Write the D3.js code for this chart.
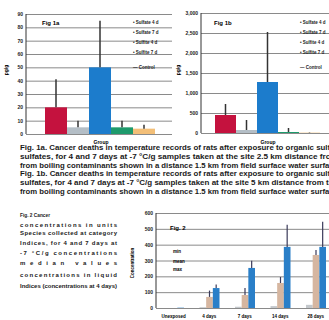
<!DOCTYPE html>
<html>
<head>
<meta charset="utf-8">
<script src="https://cdn.jsdelivr.net/npm/d3@7"></script>
<style>
  body { margin: 0; background: #fff; }
  svg { display: block; }
  text { font-family: "Liberation Sans", Arial, sans-serif; }
</style>
</head>
<body>
<script>
// --- data ---
var series1 = ["Sulfate 4 d", "Sulfate 7 d", "Sulfite 4 d", "Sulfite 7 d", "Control"];
var fig1aValues = [20, 5, 50, 5, 4];
var fig1aErrors = [21, 5, 35, 5, 3];
var fig1aTicks = [0, 10, 20, 30, 40, 50, 60, 70, 80, 90];
var fig1bValues = [450, 75, 1275, 25, 8];
var fig1bErrors = [275, 250, 1250, 100, 10];
var fig1bTicks = [0, 500, 1000, 1500, 2000, 2500, 3000];

var fig2Categories = ["Unexposed", "4 days", "7 days", "14 days", "28 days"];
var fig2Series = ["min", "mean", "max"];
var fig2Low = [0, 5, 8, 12, 20];
var fig2Mid = [0, 70, 82, 158, 335];
var fig2MidErr = [0, 40, 44, 38, 32];
var fig2High = [2, 126, 253, 386, 386];
var fig2HighErr = [0, 22, 45, 140, 158];
var fig2Ticks = [0, 100, 200, 300, 400, 500, 600];

var caption1 = [
  "Fig. 1a. Cancer deaths in temperature records of rats after exposure to organic sulfur",
  "sulfates, for 4 and 7 days at -7 \u00B0C/g samples taken at the site 2.5 km distance from",
  "from boiling contaminants shown in a distance 1.5 km from field surface water surface",
  "Fig. 1b. Cancer deaths in temperature records of rats after exposure to organic sulfur",
  "sulfates, for 4 and 7 days at -7 \u00B0C/g samples taken at the site 5 km distance from the",
  "from boiling contaminants shown in a distance 1.5 km from field surface water surface"
];
var caption2 = [
  "Fig. 2   Cancer",
  "concentrations in units",
  "Species collected at category",
  "Indices, for 4 and 7 days at",
  "-7 \u00B0C/g concentrations",
  "median values",
  "concentrations in liquid",
  "Indices (concentrations at 4 days)"
];

var colors1 = ["#c4123e", "#b4bec6", "#1c7ccc", "#1e9a6c", "#f3bf78"];
var colors2 = ["#c4c8cc", "#d6b6a0", "#2a7fc8"];

var svg = d3.select("body").append("svg")
  .attr("width", 329).attr("height", 320);

function gridAxis(g, y, ticks, left, right) {
  g.attr("transform", "translate(" + left + ",0)")
    .call(d3.axisLeft(y).tickValues(ticks).tickSize(-(right - left)).tickPadding(3));
  g.select(".domain").remove();
  g.selectAll(".tick line").attr("stroke", "#8a8a8a").attr("stroke-width", 1);
  g.selectAll(".tick text").attr("font-size", 5).attr("font-weight", "bold").attr("fill", "#222");
  g.append("line").attr("x1", 0).attr("x2", 0)
    .attr("y1", y.range()[1]).attr("y2", y.range()[0])
    .attr("stroke", "#333");
}

function barChart(opt) {
  var y = d3.scaleLinear().domain(opt.domain).range([opt.bottom, opt.top]);
  var x = d3.scaleBand().domain(series1).range(opt.barRange).paddingInner(0);
  gridAxis(svg.append("g"), y, opt.ticks, opt.left, opt.right);

  svg.append("g").selectAll("rect").data(opt.values).enter().append("rect")
    .attr("x", function(d, i) { return x(series1[i]); })
    .attr("width", x.bandwidth())
    .attr("y", function(d) { return y(d); })
    .attr("height", function(d) { return y(0) - y(d); })
    .attr("fill", function(d, i) { return colors1[i]; });

  svg.append("g").selectAll("line").data(opt.values).enter().append("line")
    .attr("x1", function(d, i) { return x(series1[i]) + x.bandwidth() / 2; })
    .attr("x2", function(d, i) { return x(series1[i]) + x.bandwidth() / 2; })
    .attr("y1", function(d) { return y(d); })
    .attr("y2", function(d, i) { return y(d + opt.errors[i]); })
    .attr("stroke", "#333").attr("stroke-width", 1.5);

  svg.append("text").attr("x", opt.labelX).attr("y", 25)
    .attr("font-size", 6).attr("font-weight", "bold").text(opt.title);

  svg.append("text").attr("transform", "translate(" + opt.titleX + ",70) rotate(-90)")
    .attr("text-anchor", "middle").attr("font-size", 5).attr("font-weight", "bold")
    .text("pg/g");

  svg.append("g").selectAll("text").data(series1).enter().append("text")
    .attr("x", opt.legendX)
    .attr("y", function(d, i) { return [24, 34, 44, 54, 69][i]; })
    .attr("font-size", 4.5).attr("font-weight", "bold").attr("fill", "#222")
    .text(function(d, i) { return (i < 4 ? "\u2022 " : "\u2014 ") + d; });

  svg.append("text").attr("x", opt.catX).attr("y", 144).attr("text-anchor", "middle")
    .attr("font-size", 5).attr("font-weight", "bold").text("Group");
}

barChart({
  domain: [0, 90], ticks: fig1aTicks, values: fig1aValues, errors: fig1aErrors,
  top: 14, bottom: 134, left: 26, right: 172, barRange: [45, 155],
  title: "Fig 1a", labelX: 42, titleX: 8, legendX: 133, catX: 101
});
barChart({
  domain: [0, 3000], ticks: fig1bTicks, values: fig1bValues, errors: fig1bErrors,
  top: 13, bottom: 133, left: 201, right: 329, barRange: [215, 320],
  title: "Fig 1b", labelX: 214, titleX: 180, legendX: 300, catX: 268
});

// captions
svg.append("g").selectAll("text").data(caption1).enter().append("text")
  .attr("x", 20)
  .attr("y", function(d, i) { return [150, 159, 168, 176, 185, 194][i]; })
  .attr("font-size", 7).attr("font-weight", "bold").attr("fill", "#1a1a1a")
  .attr("textLength", 318).attr("lengthAdjust", "spacingAndGlyphs")
  .text(function(d) { return d; });

svg.append("g").selectAll("text").data(caption2).enter().append("text")
  .attr("x", 20)
  .attr("y", function(d, i) { return [217, 227, 235, 245, 255, 265, 277, 288][i]; })
  .attr("font-size", 6).attr("font-weight", "bold").attr("fill", "#1a1a1a")
  .attr("textLength", function(d, i) { return i === 0 ? 30 : 97; })
  .attr("lengthAdjust", function(d, i) { return i === 0 || i === 7 ? "spacingAndGlyphs" : "spacing"; })
  .text(function(d) { return d; });

// Fig 2 grouped bars
var y2 = d3.scaleLinear().domain([0, 600]).range([308, 213]);
var x0 = d3.scaleBand().domain(fig2Categories).range([156, 333.5]);
var x1 = d3.scaleBand().domain(fig2Series).range([8, 28]);
gridAxis(svg.append("g"), y2, fig2Ticks, 156, 329);

var rows = fig2Categories.map(function(c, i) {
  return [
    { cat: c, s: "min", v: fig2Low[i], e: 0 },
    { cat: c, s: "mean", v: fig2Mid[i], e: fig2MidErr[i] },
    { cat: c, s: "max", v: fig2High[i], e: fig2HighErr[i] }
  ];
});
var grp = svg.append("g").selectAll("g").data(rows).enter().append("g")
  .attr("transform", function(d) { return "translate(" + x0(d[0].cat) + ",0)"; });
grp.selectAll("rect").data(function(d) { return d; }).enter().append("rect")
  .attr("x", function(d) { return x1(d.s); })
  .attr("width", x1.bandwidth())
  .attr("y", function(d) { return y2(d.v); })
  .attr("height", function(d) { return y2(0) - y2(d.v); })
  .attr("fill", function(d, i) { return colors2[i]; });
grp.selectAll("line").data(function(d) { return d.filter(function(r) { return r.e > 0; }); })
  .enter().append("line")
  .attr("x1", function(d) { return x1(d.s) + x1.bandwidth() / 2; })
  .attr("x2", function(d) { return x1(d.s) + x1.bandwidth() / 2; })
  .attr("y1", function(d) { return y2(d.v); })
  .attr("y2", function(d) { return y2(d.v + d.e); })
  .attr("stroke", "#3a3a5a").attr("stroke-width", 1.2);

svg.append("g").selectAll("text").data(fig2Categories).enter().append("text")
  .attr("x", function(d) { return x0(d) + x0.bandwidth() / 2; })
  .attr("y", 318).attr("text-anchor", "middle")
  .attr("font-size", 4.5).attr("font-weight", "bold").text(function(d) { return d; });

svg.append("text").attr("x", 170).attr("y", 230)
  .attr("font-size", 6).attr("font-weight", "bold").text("Fig. 2");
svg.append("g").selectAll("text").data(fig2Series).enter().append("text")
  .attr("x", 173).attr("y", function(d, i) { return [253, 263, 271][i]; })
  .attr("font-size", 4.5).attr("font-weight", "bold").text(function(d) { return d; });
svg.append("text").attr("transform", "translate(134,263) rotate(-90)")
  .attr("text-anchor", "middle").attr("font-size", 4.5).attr("font-weight", "bold")
  .text("Concentration");
</script>
</body>
</html>
